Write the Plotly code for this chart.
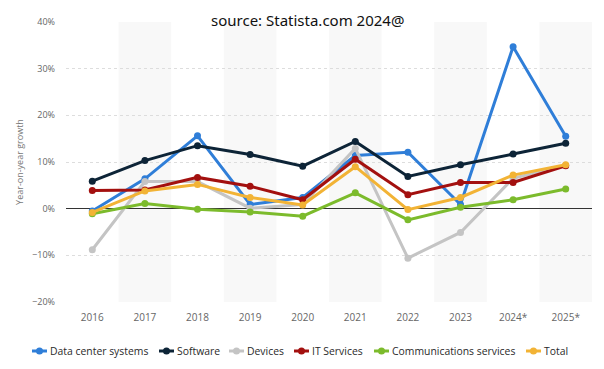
import plotly.graph_objects as go

years = ["2016", "2017", "2018", "2019", "2020", "2021", "2022", "2023", "2024*", "2025*"]

data_center = [-0.5, 6.4, 15.6, 0.9, 2.4, 11.4, 12.1, 0.9, 34.7, 15.5]
software = [5.9, 10.3, 13.5, 11.6, 9.1, 14.4, 6.9, 9.4, 11.7, 14.0]
devices = [-8.8, 5.8, 5.8, 0.1, 0.9, 12.9, -10.6, -5.1, 6.5, 9.3]
it_services = [3.9, 4.0, 6.7, 4.8, 1.9, 10.6, 3.0, 5.6, 5.6, 9.2]
comms = [-1.1, 1.1, -0.1, -0.7, -1.6, 3.4, -2.4, 0.3, 1.9, 4.2]
total = [-0.8, 3.8, 5.2, 2.4, 0.8, 9.0, -0.2, 2.4, 7.2, 9.4]

series_names = ["Data center systems", "Software", "Devices", "IT Services",
                "Communications services", "Total"]
series_values = [data_center, software, devices, it_services, comms, total]
series_colors = ["#2f7ed8", "#0d2437", "#c4c4c4", "#a3100f", "#7cbb2c", "#f2b335"]

# legend text left positions (paper coordinates of the plot area)
legend_text_x = [-0.0342, 0.2072, 0.3403, 0.4639, 0.6160, 0.9049]
legend_y = -0.175

fig = go.Figure()
for name, vals, color in zip(series_names, series_values, series_colors):
    fig.add_trace(go.Scatter(
        x=years, y=vals, name=name, mode="lines+markers",
        line=dict(color=color, width=3),
        marker=dict(color=color, size=7),
        showlegend=False,
    ))

shapes = []
for i in range(len(years)):
    if i % 2 == 1:
        shapes.append(dict(type="rect", xref="x", yref="paper",
                           x0=i - 0.5, x1=i + 0.5, y0=0, y1=1,
                           fillcolor="#f8f8f8", line=dict(width=0), layer="below"))

# faint strip at right edge
shapes.append(dict(type="rect", xref="paper", yref="paper",
                   x0=1.0076, x1=1.03, y0=0.2, y1=1.05,
                   fillcolor="#f3f3f3", line=dict(width=0), layer="below"))

annotations = [dict(text="source: Statista.com 2024@", x=0.46, xref="paper",
                    y=1.007, yref="paper", xanchor="center", yanchor="middle",
                    showarrow=False,
                    font=dict(size=15, color="#111111",
                              family="Noto Sans, Open Sans, sans-serif"))]

for name, color, tx in zip(series_names, series_colors, legend_text_x):
    shapes.append(dict(type="line", xref="paper", yref="paper",
                       xsizemode="pixel", ysizemode="pixel",
                       xanchor=tx, yanchor=legend_y,
                       x0=-16, x1=-1, y0=0, y1=0,
                       line=dict(color=color, width=3)))
    shapes.append(dict(type="circle", xref="paper", yref="paper",
                       xsizemode="pixel", ysizemode="pixel",
                       xanchor=tx, yanchor=legend_y,
                       x0=-12, x1=-5, y0=-3.5, y1=3.5,
                       fillcolor=color, line=dict(width=0)))
    annotations.append(dict(text=name, x=tx, xref="paper", y=legend_y, yref="paper",
                            xanchor="left", yanchor="middle", showarrow=False,
                            font=dict(size=10.4, color="#2a2a2a",
                                      family="Open Sans, sans-serif")))

fig.update_layout(
    width=596, height=353,
    margin=dict(l=58, r=12, t=14, b=59, autoexpand=False),
    paper_bgcolor="white", plot_bgcolor="white",
    font=dict(family="Open Sans, Noto Sans, sans-serif", color="#666666"),
    shapes=shapes,
    annotations=annotations,
    showlegend=False,
)
fig.update_xaxes(type="category", range=[-0.5, 9.5], showgrid=False,
                 tickfont=dict(size=10, color="#666666"), ticks="", showline=False,
                 ticklabelstandoff=8)
fig.update_yaxes(range=[-20, 40], dtick=10, ticksuffix="%",
                 showgrid=True, gridcolor="#dddddd", griddash="dot", gridwidth=1,
                 zeroline=True, zerolinecolor="#333333", zerolinewidth=1,
                 tickfont=dict(size=9, color="#666666"), ticklabelstandoff=10,
                 title=dict(text="Year-on-year growth", font=dict(size=9, color="#777777"),
                            standoff=6))

fig.write_html("out.html")
